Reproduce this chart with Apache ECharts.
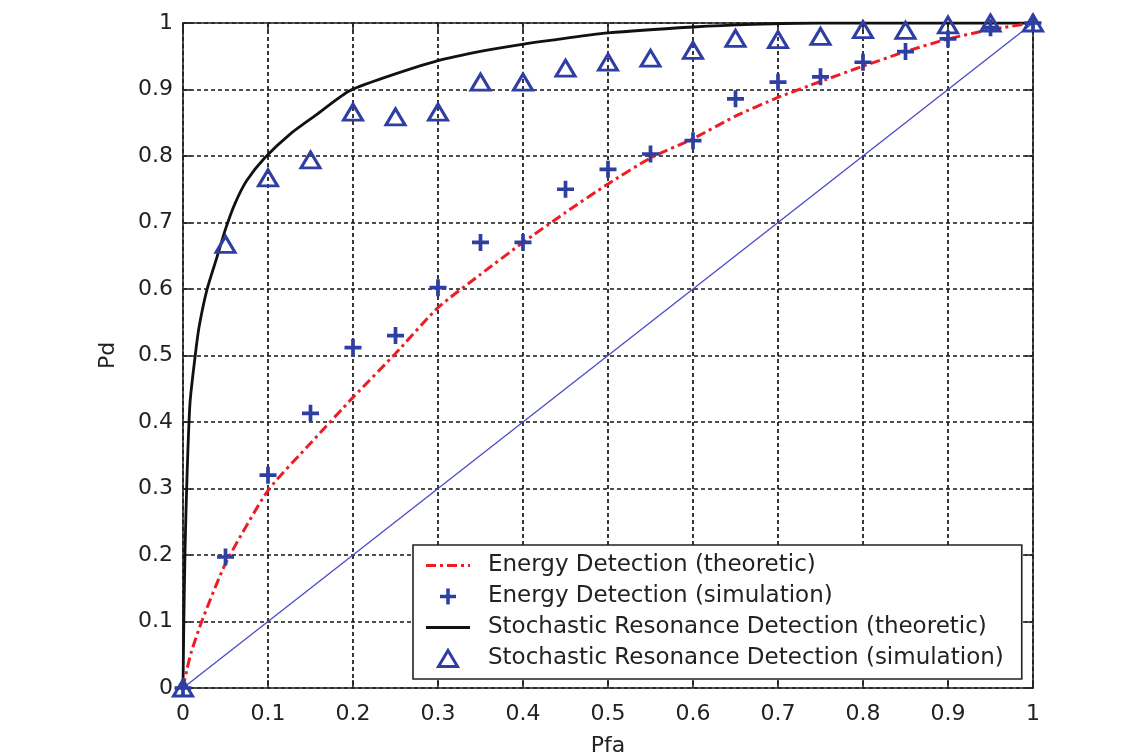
<!DOCTYPE html>
<html>
<head>
<meta charset="utf-8">
<script src="https://cdn.jsdelivr.net/npm/echarts@6/dist/echarts.min.js"></script>
<style>
html,body{margin:0;padding:0;background:#fff;}
#chart{width:1140px;height:756px;}
</style>
</head>
<body>
<div id="chart"></div>
<script>
// ---- data ----
const xTickLabels = ['0','0.1','0.2','0.3','0.4','0.5','0.6','0.7','0.8','0.9','1'];
const yTickLabels = ['0','0.1','0.2','0.3','0.4','0.5','0.6','0.7','0.8','0.9','1'];

const simPfa = [0,0.05,0.1,0.15,0.2,0.25,0.3,0.35,0.4,0.45,0.5,0.55,0.6,0.65,0.7,0.75,0.8,0.85,0.9,0.95,1.0];
const edSimPd = [0,0.197,0.32,0.413,0.512,0.53,0.602,0.67,0.67,0.75,0.78,0.803,0.823,0.886,0.911,0.919,0.941,0.957,0.976,0.993,1.0];
const srSimPd = [0,0.667,0.767,0.794,0.866,0.859,0.866,0.911,0.911,0.932,0.941,0.947,0.959,0.977,0.975,0.98,0.99,0.989,0.997,1.0,1.0];

const edTheoPfa = [0,0.005,0.01,0.022,0.05,0.1,0.15,0.2,0.25,0.3,0.35,0.4,0.45,0.5,0.55,0.6,0.65,0.7,0.75,0.8,0.85,0.9,0.95,1.0];
const edTheoPd  = [0,0.03,0.055,0.1,0.187,0.297,0.368,0.437,0.503,0.572,0.622,0.67,0.715,0.758,0.797,0.826,0.86,0.888,0.912,0.935,0.957,0.976,0.99,1.0];

const srTheoPfa = [0,0.001,0.0024,0.0047,0.0082,0.0141,0.0188,0.028,0.04,0.05,0.061,0.075,0.096,0.126,0.158,0.196,0.235,0.299,0.353,0.399,0.432,0.5,0.6,0.67,0.75,0.85,1.0];
const srTheoPd  = [0,0.1,0.207,0.317,0.428,0.497,0.542,0.598,0.648,0.69,0.728,0.763,0.797,0.833,0.863,0.898,0.917,0.943,0.958,0.968,0.974,0.985,0.994,0.998,1.0,1.0,1.0];

const chanceX = [0,1];
const chanceY = [0,1];

const seriesNames = [
  'Energy Detection (theoretic)',
  'Energy Detection (simulation)',
  'Stochastic Resonance Detection (theoretic)',
  'Stochastic Resonance Detection (simulation)'
];
// ---------------------------------------

const zip = (xs, ys) => xs.map((x, i) => [x, ys[i]]);
const FONT = "'DejaVu Sans', Verdana, sans-serif";
const BLUE = '#2f3ea3';
const RED = '#ee1c25';
const plusPath = 'path://M6.25,0H9.75V6.25H16V9.75H9.75V16H6.25V9.75H0V6.25H6.25Z';
const triPath = 'path://M9.5,0L19,16H0Z';
const dashDotIcon = 'path://M0,0H10V3H0Z M14,0H17V3H14Z M21,0H31V3H21Z M35,0H38V3H35Z M42,0H44V3H42Z';
const solidIcon = 'path://M0,0H44V3H0Z';

const fmtX = v => { const i = Math.round(v * 10); return xTickLabels[i] !== undefined ? xTickLabels[i] : ''; };
const fmtY = v => { const i = Math.round(v * 10); return yTickLabels[i] !== undefined ? yTickLabels[i] : ''; };

const baseAxis = {
  type: 'value', min: 0, max: 1, interval: 0.1,
  axisLine: { show: true, onZero: false, lineStyle: { color: '#222', width: 1.6 } },
  axisTick: { show: true, inside: true, length: 8, lineStyle: { color: '#222', width: 1.6 } },
  splitLine: { show: false }
};
const gridLine = { show: true, lineStyle: { color: '#151515', width: 1.7, type: [4, 3] } };

const chart = echarts.init(document.getElementById('chart'), null, { renderer: 'canvas' });
chart.setOption({
  animation: false,
  backgroundColor: '#fff',
  grid: { left: 183, right: 107, top: 23, bottom: 68, containLabel: false, outerBoundsMode: 'none' },
  xAxis: [
    Object.assign({}, baseAxis, {
      position: 'bottom',
      name: 'Pfa', nameLocation: 'middle', nameGap: 47,
      nameTextStyle: { fontFamily: FONT, fontSize: 22, color: '#222' },
      axisLabel: { formatter: fmtX, margin: 15, fontFamily: FONT, fontSize: 22, color: '#222' },
      splitLine: gridLine
    }),
    Object.assign({}, baseAxis, { position: 'top', axisLabel: { show: false } })
  ],
  yAxis: [
    Object.assign({}, baseAxis, {
      position: 'left',
      name: 'Pd', nameLocation: 'middle', nameGap: 64, nameRotate: 90,
      nameTextStyle: { fontFamily: FONT, fontSize: 22, color: '#222' },
      axisLabel: { formatter: fmtY, margin: 10, fontFamily: FONT, fontSize: 22, color: '#222' },
      splitLine: gridLine
    }),
    Object.assign({}, baseAxis, { position: 'right', axisLabel: { show: false } })
  ],
  legend: {
    orient: 'vertical',
    left: 413, top: 545,
    padding: [9, 18, 9, 13],
    itemGap: 8,
    itemWidth: 44, itemHeight: 16,
    symbolKeepAspect: true,
    backgroundColor: '#fff',
    borderColor: '#222', borderWidth: 1.6, borderRadius: 0,
    textStyle: { fontFamily: FONT, fontSize: 23, color: '#222', padding: [0, 0, 0, 13] },
    data: [
      { name: seriesNames[0], icon: dashDotIcon },
      { name: seriesNames[1], icon: plusPath },
      { name: seriesNames[2], icon: solidIcon },
      { name: seriesNames[3], icon: triPath,
        itemStyle: { color: 'rgba(255,255,255,0)', borderColor: BLUE, borderWidth: 3 } }
    ],
    z: 10
  },
  series: [
    {
      name: 'chance', type: 'line', data: zip(chanceX, chanceY),
      showSymbol: false, symbol: 'none',
      lineStyle: { color: '#4a4ac4', width: 1.3 }, z: 2
    },
    {
      name: seriesNames[2], type: 'line', data: zip(srTheoPfa, srTheoPd),
      showSymbol: false, symbol: 'none', smooth: 0.25,
      itemStyle: { color: '#111' },
      lineStyle: { color: '#111', width: 2.8 }, z: 3
    },
    {
      name: seriesNames[0], type: 'line', data: zip(edTheoPfa, edTheoPd),
      showSymbol: false, symbol: 'none', smooth: 0.2,
      itemStyle: { color: RED },
      lineStyle: { color: RED, width: 3, type: [10, 4, 3, 4] }, z: 4
    },
    {
      name: seriesNames[1], type: 'scatter', data: zip(simPfa, edSimPd),
      symbol: plusPath, symbolSize: 17, clip: false,
      itemStyle: { color: BLUE, opacity: 1 }, z: 5
    },
    {
      name: seriesNames[3], type: 'scatter', data: zip(simPfa, srSimPd),
      symbol: triPath, symbolSize: [19, 16], clip: false,
      itemStyle: { color: 'rgba(255,255,255,0)', borderColor: BLUE, borderWidth: 3, opacity: 1 }, z: 6
    }
  ]
});
</script>
</body>
</html>
